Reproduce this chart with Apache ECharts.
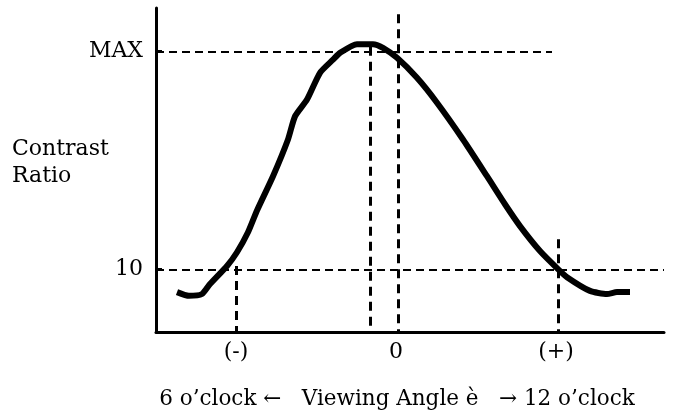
<!DOCTYPE html>
<html>
<head>
<meta charset="utf-8">
<script src="https://cdn.jsdelivr.net/npm/echarts@6/dist/echarts.min.js"></script>
<style>
  html, body { margin: 0; padding: 0; background: #fff; }
  #chart { width: 675px; height: 415px; }
</style>
</head>
<body>
<div id="chart"></div>
<script>
// viewing angle (deg) vs contrast ratio
const angles = [-54.75, -51.75, -48.5, -46.5, -42.25, -39.75, -37, -34.75, -30.75, -27, -25.25, -22.25,
  -19, -15.75, -14, -9.75, -5.75, -3.25, 0.25, 5.25, 10.25, 16.75, 22.75, 27.25, 31, 36, 40.5, 42.75,
  48.5, 52.75, 55.25, 58.5]
const contrast = [6.4, 5.8, 6.1, 7.7, 10.6, 12.8, 16, 19.5, 25, 30.9, 34.6, 37.3,
  41.6, 43.7, 44.8, 46.2, 46.2, 45.6, 44, 40.8, 36.8, 30.9, 25, 20.5, 17, 13, 10.1, 8.8,
  6.6, 6.1, 6.4, 6.4]

const xTickValues = [-40, 0, 40]
const xTickLabels = ['(-)', '0', '(+)']
const yTickValues = [10, 45]
const yTickLabels = ['10', 'MAX']

// dashed guide lines: [x, yTop] dropping to the x axis
const dropLines = [[-6.5, 45.8], [0.5, 51], [-40, 10.6], [40.5, 14.9]]
// horizontal guides: [y, xStart, xEnd]
const levelLines = [[45, -60, 39], [10, -60, 67]]

const FONT = 'DejaVu Serif'

const chart = echarts.init(document.getElementById('chart'))

const guideData = []
levelLines.forEach(([y, x0, x1]) => {
  guideData.push([{ coord: [x0, y], lineStyle: { width: 2, type: [8, 5] } }, { coord: [x1, y] }])
})
dropLines.forEach(([x, yTop]) => {
  guideData.push([{ coord: [x, yTop], lineStyle: { width: 3, type: [9, 6] } }, { coord: [x, 0] }])
})

chart.setOption({
  animation: false,
  grid: { left: 156, right: 11, top: 8, bottom: 82 },
  xAxis: {
    type: 'value',
    min: -60,
    max: 67,
    name: '6 o\u2019clock \u2190   Viewing Angle \u00e8   \u2192 12 o\u2019clock',
    nameLocation: 'middle',
    nameGap: 56,
    nameTextStyle: { fontFamily: FONT, fontSize: 21.5, color: '#000', padding: [0, 26, 0, 0] },
    splitLine: { show: false },
    axisLine: { onZero: false, lineStyle: { color: '#000', width: 3 } },
    axisTick: { show: false },
    axisLabel: {
      customValues: xTickValues,
      margin: 9,
      fontFamily: FONT,
      fontSize: 22,
      color: '#000',
      formatter: v => xTickLabels[xTickValues.indexOf(v)] ?? ''
    }
  },
  yAxis: {
    type: 'value',
    min: 0,
    max: 52,
    splitLine: { show: false },
    axisLine: { show: true, onZero: false, lineStyle: { color: '#000', width: 3 } },
    axisTick: { show: true, inside: true, length: 6, customValues: yTickValues, lineStyle: { color: '#000', width: 3 } },
    axisLabel: {
      customValues: yTickValues,
      margin: 13,
      fontFamily: FONT,
      fontSize: 22,
      color: '#000',
      formatter: v => yTickLabels[yTickValues.indexOf(v)] ?? ''
    }
  },
  graphic: [{
    type: 'text',
    left: 12,
    top: 136,
    style: { text: 'Contrast\nRatio', fontFamily: FONT, fontSize: 22, lineHeight: 27, fill: '#000' }
  }],
  series: [
    {
      type: 'line',
      data: [],
      markLine: {
        silent: true,
        symbol: 'none',
        label: { show: false },
        lineStyle: { color: '#000' },
        data: guideData
      }
    },
    {
      type: 'line',
      data: angles.map((a, i) => [a, contrast[i]]),
      showSymbol: false,
      smooth: 0.2,
      lineStyle: { color: '#000', width: 6 }
    }
  ]
})
</script>
</body>
</html>
